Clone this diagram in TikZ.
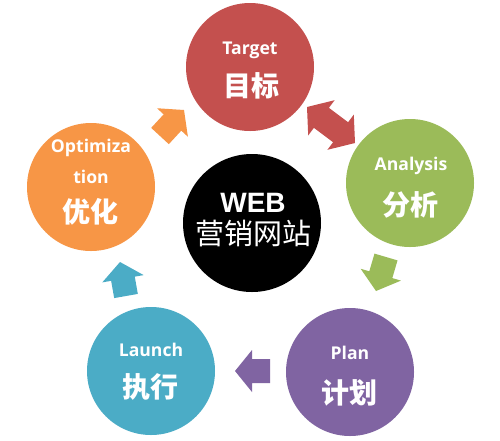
\documentclass[tikz,border=0pt]{standalone}
\usepackage{fontspec}
\usetikzlibrary{calc}
\newfontfamily\labfont{Open Sans}
\newfontfamily\cjkfont{Noto Sans CJK SC}
\newfontfamily\webfont{Liberation Sans}
\definecolor{cred}{HTML}{C4504E}
\definecolor{cgreen}{HTML}{9BBB59}
\definecolor{cpurple}{HTML}{8064A2}
\definecolor{cteal}{HTML}{4BACC6}
\definecolor{corange}{HTML}{F79646}
% block arrow: #1 tail, #2 tip, #3 colour
\newcommand\blockarrow[3]{%
  \path ($(#2)!17pt!(#1)$) coordinate (bh);
  \fill[#3] (#2) -- ($(bh)!21pt!90:(#2)$) -- ($(bh)!12pt!90:(#2)$)
    -- ($(#1)!12pt!90:(#2)$) -- ($(#1)!12pt!-90:(#2)$)
    -- ($(bh)!12pt!-90:(#2)$) -- ($(bh)!21pt!-90:(#2)$) -- cycle;}
% double block arrow: #1 tip, #2 tip, #3 colour
\newcommand\dblockarrow[3]{%
  \path ($(#1)!18pt!(#2)$) coordinate (ha) ($(#2)!18pt!(#1)$) coordinate (hb);
  \fill[#3] (#1) -- ($(ha)!22pt!90:(#1)$) -- ($(ha)!12.5pt!90:(#1)$)
    -- ($(hb)!12.5pt!-90:(#2)$) -- ($(hb)!22pt!-90:(#2)$) -- (#2)
    -- ($(hb)!22pt!90:(#2)$) -- ($(hb)!12.5pt!90:(#2)$)
    -- ($(ha)!12.5pt!-90:(#1)$) -- ($(ha)!22pt!-90:(#1)$) -- cycle;}
\begin{document}
\begin{tikzpicture}[x=1pt,y=-1pt,
  ball/.style={circle,inner sep=0pt,minimum size=128pt},
  en/.style={text=white,font=\labfont\bfseries\fontsize{17.6}{20}\selectfont,inner sep=0pt},
  zh/.style={text=white,font=\cjkfont\bfseries\fontsize{28}{30}\selectfont,inner sep=0pt}]
\useasboundingbox[fill=white] (0,0) rectangle (500,440);
% circles
\node[ball,fill=cred] (target) at (250,67) {};
\node[ball,fill=cgreen] (analysis) at (410,183) {};
\node[ball,fill=cpurple] (plan) at (350,372) {};
\node[ball,fill=cteal] (launch) at (151,371) {};
\node[ball,fill=corange] (optim) at (91,187) {};
\node[circle,inner sep=0pt,minimum size=138pt,fill=black] (web) at (252,223) {};
% labels
\node[en] (t1) at (250,50) {Target};
\node[zh] (t2) at (251,86) {目标};
\node[en] (a1) at (411,166) {Analysis};
\node[zh] (a2) at (410,205) {分析};
\node[en] (p1) at (350,353) {Plan};
\node[zh] (p2) at (349,393) {计划};
\node[en] (l1) at (151,350) {Launch};
\node[zh] (l2) at (150,387) {执行};
\node[en] (o1) at (91,148) {Optimiza};
\node[en] (o2) at (91,177) {tion};
\node[zh] (o3) at (90,212) {优化};
\node[text=white,font=\webfont\bfseries\fontsize{28}{30}\selectfont,inner sep=0pt] (w1) at (253,203) {WEB};
\node[text=white,font=\cjkfont\fontsize{29}{31}\selectfont,inner sep=0pt] (w2) at (253,234) {营销网站};
% arrows
\coordinate (oa1) at (160,136); \coordinate (oa2) at (184,110);
\coordinate (ra1) at (307,107); \coordinate (ra2) at (355,143);
\coordinate (ga1) at (386,257); \coordinate (ga2) at (376,291);
\coordinate (pa1) at (270,371); \coordinate (pa2) at (235,371);
\coordinate (ta1) at (126,296); \coordinate (ta2) at (120,262);
\blockarrow{oa1}{oa2}{corange}
\dblockarrow{ra1}{ra2}{cred}
\blockarrow{ga1}{ga2}{cgreen}
\blockarrow{pa1}{pa2}{cpurple}
\blockarrow{ta1}{ta2}{cteal}
\end{tikzpicture}
\end{document}
